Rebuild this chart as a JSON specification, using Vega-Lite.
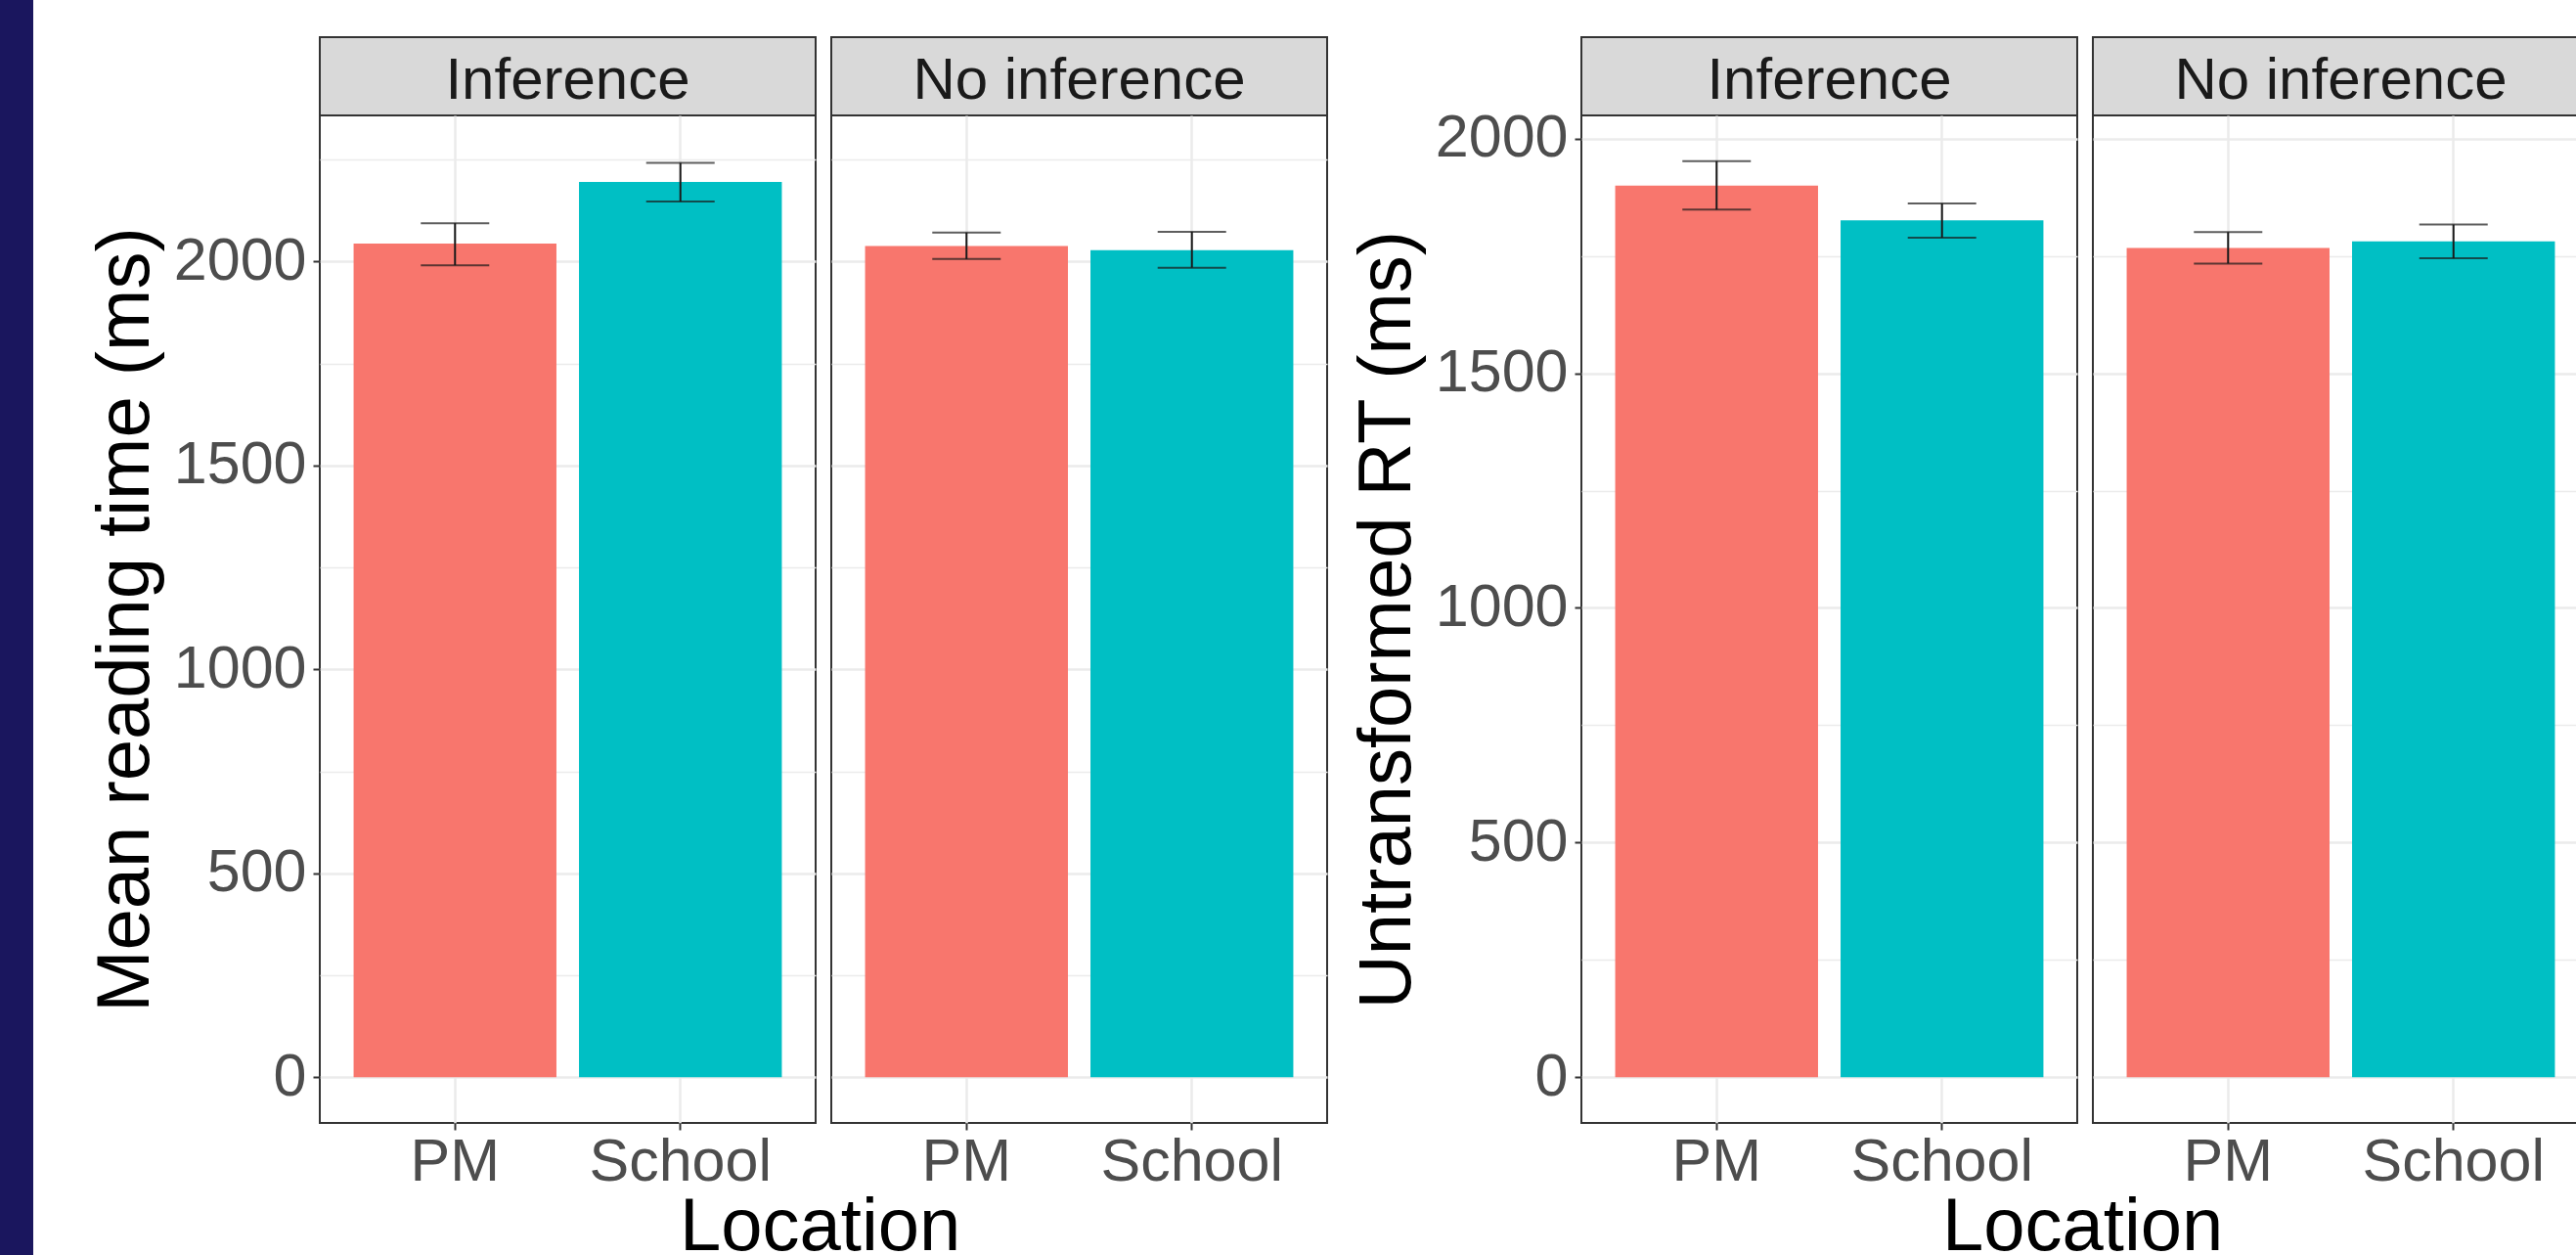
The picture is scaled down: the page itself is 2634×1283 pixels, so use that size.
{
  "$schema": "https://vega.github.io/schema/vega-lite/v6.json",
  "padding": 0,
  "background": "white",
  "spacing": 55,
  "datasets": {
    "rt": [
      {"chart": "A", "condition": "Inference", "location": "PM", "mean": 2044, "lo": 1991, "hi": 2094},
      {"chart": "A", "condition": "Inference", "location": "School", "mean": 2195, "lo": 2147, "hi": 2242},
      {"chart": "A", "condition": "No inference", "location": "PM", "mean": 2038, "lo": 2006, "hi": 2071},
      {"chart": "A", "condition": "No inference", "location": "School", "mean": 2028, "lo": 1985, "hi": 2073},
      {"chart": "B", "condition": "Inference", "location": "PM", "mean": 1900, "lo": 1849, "hi": 1952},
      {"chart": "B", "condition": "Inference", "location": "School", "mean": 1826, "lo": 1789, "hi": 1862},
      {"chart": "B", "condition": "No inference", "location": "PM", "mean": 1767, "lo": 1734, "hi": 1801},
      {"chart": "B", "condition": "No inference", "location": "School", "mean": 1781, "lo": 1745, "hi": 1817}
    ],
    "blank": [{"t": ""}]
  },
  "config": {
    "font": "Liberation Sans",
    "view": {"stroke": "#333333", "strokeWidth": 2},
    "axis": {
      "domain": false,
      "gridColor": "#EBEBEB",
      "tickColor": "#333333",
      "tickWidth": 2,
      "tickSize": 7,
      "labelFont": "Liberation Sans",
      "labelFontSize": 61,
      "labelLimit": 1000,
      "labelColor": "#4D4D4D",
      "titleFont": "Liberation Sans",
      "titleFontSize": 76,
      "titleFontWeight": "normal",
      "titleColor": "#000000"
    }
  },
  "hconcat": [
    {
      "width": 34, "height": 1283,
      "view": {"fill": "#1a165e", "stroke": null},
      "data": {"name": "blank"},
      "mark": {"type": "text"},
      "encoding": {"text": {"field": "t"}}
    },
    {
      "spacing": 0,
      "vconcat": [
        {
          "width": 1, "height": 37,
          "view": {"stroke": null},
          "data": {"name": "blank"},
          "mark": {"type": "text"},
          "encoding": {"text": {"field": "t"}}
        },
        {
          "spacing": 21,
          "hconcat": [
            {
              "title": {"text": "Location", "orient": "bottom", "anchor": "middle", "frame": "bounds", "baseline": "top", "fontSize": 76, "fontWeight": "normal", "color": "#000000", "font": "Liberation Sans", "offset": -1, "dx": 115},
              "spacing": 14,
              "hconcat": [
                {
                  "spacing": 0, "bounds": "flush",
                  "vconcat": [
                    {
                      "width": 507, "height": 80,
                      "view": {"fill": "#D9D9D9", "stroke": "#333333", "strokeWidth": 2},
                      "data": {"name": "rt"},
                      "transform": [{"filter": "datum.chart === 'A' && datum.condition === 'Inference' && datum.location === 'PM'"}],
                      "mark": {"type": "text", "fontSize": 60, "color": "#1A1A1A", "dy": 5, "font": "Liberation Sans"},
                      "encoding": {"text": {"field": "condition"}}
                    },
                    {
                      "width": 507, "height": 1030,
                      "data": {"name": "rt"},
                      "transform": [{"filter": "datum.chart === 'A' && datum.condition === 'Inference'"}],
                      "encoding": {
                        "x": {"field": "location", "type": "nominal", "sort": ["PM", "School"], "scale": {"paddingInner": 0.1, "paddingOuter": 0.15}, "axis": {"title": null, "labelAngle": 0, "grid": true, "gridWidth": 2.5, "labelPadding": 3}}
                      },
                      "layer": [
                        {
                          "mark": {"type": "bar"},
                          "encoding": {
                            "y": {"field": "mean", "type": "quantitative", "title": "Mean reading time (ms)", "scale": {"domain": [-112.3, 2358.3], "nice": false},
                              "axis": {"values": [0, 250, 500, 750, 1000, 1250, 1500, 1750, 2000, 2250], "format": "d", "labelOverlap": false, "labelExpr": "datum.value % 500 === 0 ? datum.label : ''", "tickOpacity": {"condition": {"test": "datum.value % 500 === 0", "value": 1}, "value": 0}, "gridWidth": {"condition": {"test": "datum.value % 500 === 0", "value": 2.5}, "value": 1.3}, "labelPadding": 7, "titlePadding": 10}},
                            "color": {"field": "location", "type": "nominal", "scale": {"domain": ["PM", "School"], "range": ["#F8766D", "#00BFC4"]}, "legend": null}
                          }
                        },
                        {
                          "mark": {"type": "rule", "color": "#1a1a1a", "strokeWidth": 2},
                          "encoding": {"y": {"field": "lo", "type": "quantitative", "title": "Mean reading time (ms)"}, "y2": {"field": "hi"}}
                        },
                        {
                          "mark": {"type": "tick", "color": "#1a1a1a", "size": 70, "thickness": 2},
                          "encoding": {"y": {"field": "lo", "type": "quantitative", "title": "Mean reading time (ms)"}}
                        },
                        {
                          "mark": {"type": "tick", "color": "#1a1a1a", "size": 70, "thickness": 2},
                          "encoding": {"y": {"field": "hi", "type": "quantitative", "title": "Mean reading time (ms)"}}
                        }
                      ]
                    }
                  ]
                },
                {
                  "spacing": 0, "bounds": "flush",
                  "vconcat": [
                    {
                      "width": 507, "height": 80,
                      "view": {"fill": "#D9D9D9", "stroke": "#333333", "strokeWidth": 2},
                      "data": {"name": "rt"},
                      "transform": [{"filter": "datum.chart === 'A' && datum.condition === 'No inference' && datum.location === 'PM'"}],
                      "mark": {"type": "text", "fontSize": 60, "color": "#1A1A1A", "dy": 5, "font": "Liberation Sans"},
                      "encoding": {"text": {"field": "condition"}}
                    },
                    {
                      "width": 507, "height": 1030,
                      "data": {"name": "rt"},
                      "transform": [{"filter": "datum.chart === 'A' && datum.condition === 'No inference'"}],
                      "encoding": {
                        "x": {"field": "location", "type": "nominal", "sort": ["PM", "School"], "scale": {"paddingInner": 0.1, "paddingOuter": 0.15}, "axis": {"title": null, "labelAngle": 0, "grid": true, "gridWidth": 2.5, "labelPadding": 3}}
                      },
                      "layer": [
                        {
                          "mark": {"type": "bar"},
                          "encoding": {
                            "y": {"field": "mean", "type": "quantitative", "title": null, "scale": {"domain": [-112.3, 2358.3], "nice": false},
                              "axis": {"values": [0, 250, 500, 750, 1000, 1250, 1500, 1750, 2000, 2250], "labels": false, "ticks": false, "gridWidth": {"condition": {"test": "datum.value % 500 === 0", "value": 2.5}, "value": 1.3}}},
                            "color": {"field": "location", "type": "nominal", "scale": {"domain": ["PM", "School"], "range": ["#F8766D", "#00BFC4"]}, "legend": null}
                          }
                        },
                        {
                          "mark": {"type": "rule", "color": "#1a1a1a", "strokeWidth": 2},
                          "encoding": {"y": {"field": "lo", "type": "quantitative", "title": null}, "y2": {"field": "hi"}}
                        },
                        {
                          "mark": {"type": "tick", "color": "#1a1a1a", "size": 70, "thickness": 2},
                          "encoding": {"y": {"field": "lo", "type": "quantitative", "title": null}}
                        },
                        {
                          "mark": {"type": "tick", "color": "#1a1a1a", "size": 70, "thickness": 2},
                          "encoding": {"y": {"field": "hi", "type": "quantitative", "title": null}}
                        }
                      ]
                    }
                  ]
                }
              ]
            },
            {
              "title": {"text": "Location", "orient": "bottom", "anchor": "middle", "frame": "bounds", "baseline": "top", "fontSize": 76, "fontWeight": "normal", "color": "#000000", "font": "Liberation Sans", "offset": -1, "dx": 116},
              "spacing": 14,
              "hconcat": [
                {
                  "spacing": 0, "bounds": "flush",
                  "vconcat": [
                    {
                      "width": 507, "height": 80,
                      "view": {"fill": "#D9D9D9", "stroke": "#333333", "strokeWidth": 2},
                      "data": {"name": "rt"},
                      "transform": [{"filter": "datum.chart === 'B' && datum.condition === 'Inference' && datum.location === 'PM'"}],
                      "mark": {"type": "text", "fontSize": 60, "color": "#1A1A1A", "dy": 5, "font": "Liberation Sans"},
                      "encoding": {"text": {"field": "condition"}}
                    },
                    {
                      "width": 507, "height": 1030,
                      "data": {"name": "rt"},
                      "transform": [{"filter": "datum.chart === 'B' && datum.condition === 'Inference'"}],
                      "encoding": {
                        "x": {"field": "location", "type": "nominal", "sort": ["PM", "School"], "scale": {"paddingInner": 0.1, "paddingOuter": 0.15}, "axis": {"title": null, "labelAngle": 0, "grid": true, "gridWidth": 2.5, "labelPadding": 3}}
                      },
                      "layer": [
                        {
                          "mark": {"type": "bar"},
                          "encoding": {
                            "y": {"field": "mean", "type": "quantitative", "title": "Untransformed RT (ms)", "scale": {"domain": [-97.6, 2049.6], "nice": false},
                              "axis": {"values": [0, 250, 500, 750, 1000, 1250, 1500, 1750, 2000], "format": "d", "labelOverlap": false, "labelExpr": "datum.value % 500 === 0 ? datum.label : ''", "tickOpacity": {"condition": {"test": "datum.value % 500 === 0", "value": 1}, "value": 0}, "gridWidth": {"condition": {"test": "datum.value % 500 === 0", "value": 2.5}, "value": 1.3}, "labelPadding": 7, "titlePadding": 10}},
                            "color": {"field": "location", "type": "nominal", "scale": {"domain": ["PM", "School"], "range": ["#F8766D", "#00BFC4"]}, "legend": null}
                          }
                        },
                        {
                          "mark": {"type": "rule", "color": "#1a1a1a", "strokeWidth": 2},
                          "encoding": {"y": {"field": "lo", "type": "quantitative", "title": "Untransformed RT (ms)"}, "y2": {"field": "hi"}}
                        },
                        {
                          "mark": {"type": "tick", "color": "#1a1a1a", "size": 70, "thickness": 2},
                          "encoding": {"y": {"field": "lo", "type": "quantitative", "title": "Untransformed RT (ms)"}}
                        },
                        {
                          "mark": {"type": "tick", "color": "#1a1a1a", "size": 70, "thickness": 2},
                          "encoding": {"y": {"field": "hi", "type": "quantitative", "title": "Untransformed RT (ms)"}}
                        }
                      ]
                    }
                  ]
                },
                {
                  "spacing": 0, "bounds": "flush",
                  "vconcat": [
                    {
                      "width": 507, "height": 80,
                      "view": {"fill": "#D9D9D9", "stroke": "#333333", "strokeWidth": 2},
                      "data": {"name": "rt"},
                      "transform": [{"filter": "datum.chart === 'B' && datum.condition === 'No inference' && datum.location === 'PM'"}],
                      "mark": {"type": "text", "fontSize": 60, "color": "#1A1A1A", "dy": 5, "font": "Liberation Sans"},
                      "encoding": {"text": {"field": "condition"}}
                    },
                    {
                      "width": 507, "height": 1030,
                      "data": {"name": "rt"},
                      "transform": [{"filter": "datum.chart === 'B' && datum.condition === 'No inference'"}],
                      "encoding": {
                        "x": {"field": "location", "type": "nominal", "sort": ["PM", "School"], "scale": {"paddingInner": 0.1, "paddingOuter": 0.15}, "axis": {"title": null, "labelAngle": 0, "grid": true, "gridWidth": 2.5, "labelPadding": 3}}
                      },
                      "layer": [
                        {
                          "mark": {"type": "bar"},
                          "encoding": {
                            "y": {"field": "mean", "type": "quantitative", "title": null, "scale": {"domain": [-97.6, 2049.6], "nice": false},
                              "axis": {"values": [0, 250, 500, 750, 1000, 1250, 1500, 1750, 2000], "labels": false, "ticks": false, "gridWidth": {"condition": {"test": "datum.value % 500 === 0", "value": 2.5}, "value": 1.3}}},
                            "color": {"field": "location", "type": "nominal", "scale": {"domain": ["PM", "School"], "range": ["#F8766D", "#00BFC4"]}, "legend": null}
                          }
                        },
                        {
                          "mark": {"type": "rule", "color": "#1a1a1a", "strokeWidth": 2},
                          "encoding": {"y": {"field": "lo", "type": "quantitative", "title": null}, "y2": {"field": "hi"}}
                        },
                        {
                          "mark": {"type": "tick", "color": "#1a1a1a", "size": 70, "thickness": 2},
                          "encoding": {"y": {"field": "lo", "type": "quantitative", "title": null}}
                        },
                        {
                          "mark": {"type": "tick", "color": "#1a1a1a", "size": 70, "thickness": 2},
                          "encoding": {"y": {"field": "hi", "type": "quantitative", "title": null}}
                        }
                      ]
                    }
                  ]
                }
              ]
            }
          ]
        }
      ]
    }
  ]
}
